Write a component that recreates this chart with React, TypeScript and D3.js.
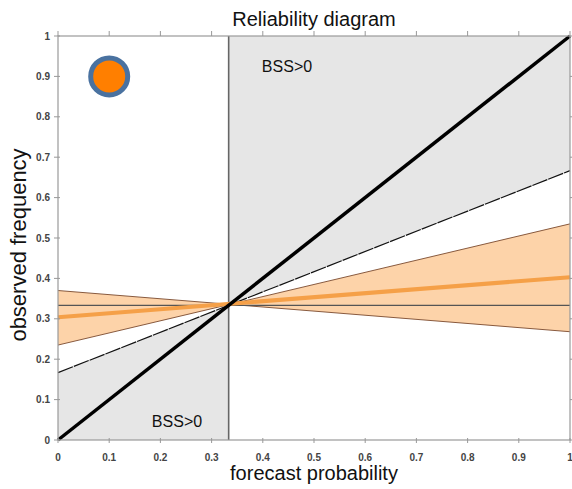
import React from "react";
import * as d3 from "d3";

const W = 572;
const H = 489;

// data
const climatology = 1 / 3;
const bandX = [0, 1];
const bandEdgeA = [0.235, 0.535];
const bandEdgeB = [0.37, 0.268];
const fitLine = [0.304, 0.403];
const perfectX = [0, 1];
const perfectY = [0, 1];
const tickValues = [0, 0.1, 0.2, 0.3, 0.4, 0.5, 0.6, 0.7, 0.8, 0.9, 1];
const tickLabels = ["0", "0.1", "0.2", "0.3", "0.4", "0.5", "0.6", "0.7", "0.8", "0.9", "1"];
const marker = { x: 0.1, y: 0.9 };

export default function App() {
  const m = { left: 58, right: 570, top: 36, bottom: 440 };
  const x = d3.scaleLinear().domain([0, 1]).range([m.left, m.right]);
  const y = d3.scaleLinear().domain([0, 1]).range([m.bottom, m.top]);

  const noSkill = (p: number) => (p + climatology) / 2;

  const line = d3
    .line<[number, number]>()
    .x((d) => x(d[0]))
    .y((d) => y(d[1]));

  // shaded BSS>0 regions
  const leftRegion: [number, number][] = [
    [0, 0],
    [0, noSkill(0)],
    [climatology, noSkill(climatology)],
    [climatology, 0],
  ];
  const rightRegion: [number, number][] = [
    [climatology, noSkill(climatology)],
    [1, noSkill(1)],
    [1, 1],
    [climatology, 1],
  ];

  const bandData = bandX.map((bx, i) => ({ x: bx, a: bandEdgeA[i], b: bandEdgeB[i] }));
  const band = d3
    .area<{ x: number; a: number; b: number }>()
    .x((d) => x(d.x))
    .y0((d) => y(d.a))
    .y1((d) => y(d.b));

  const font = "Liberation Sans, Arial, sans-serif";

  return (
    <svg width={W} height={H} style={{ position: "absolute", left: 0, top: 0 }} fontFamily={font}>
      <rect x={0} y={0} width={W} height={H} fill="#fff" />
      <path d={line(leftRegion) + "Z"} fill="#e6e6e6" />
      <path d={line(rightRegion) + "Z"} fill="#e6e6e6" />

      {/* band */}
      <path d={band(bandData) || ""} fill="#fdd3a9" />
      <path d={line(bandX.map((bx, i) => [bx, bandEdgeA[i]]) as [number, number][]) || ""} fill="none" stroke="#7a4a2e" strokeWidth={0.9} />
      <path d={line(bandX.map((bx, i) => [bx, bandEdgeB[i]]) as [number, number][]) || ""} fill="none" stroke="#7a4a2e" strokeWidth={0.9} />

      {/* no-skill line */}
      <path d={line([[0, noSkill(0)], [1, noSkill(1)]]) || ""} fill="none" stroke="#111" strokeWidth={1.2} strokeDasharray="16 1" />

      {/* climatology lines */}
      <line x1={x(0)} x2={x(1)} y1={y(climatology)} y2={y(climatology)} stroke="#555" strokeWidth={1.4} />
      <line x1={x(climatology)} x2={x(climatology)} y1={y(0)} y2={y(1)} stroke="#666" strokeWidth={1.6} />

      {/* fit line */}
      <path d={line(bandX.map((bx, i) => [bx, fitLine[i]]) as [number, number][]) || ""} fill="none" stroke="#f5a048" strokeWidth={4} />

      {/* perfect reliability */}
      <path d={line(perfectX.map((px, i) => [px, perfectY[i]]) as [number, number][]) || ""} fill="none" stroke="#000" strokeWidth={3.5} />

      {/* frame */}
      <rect x={m.left} y={m.top} width={m.right - m.left} height={m.bottom - m.top} fill="none" stroke="#9a9a9a" strokeWidth={1.2} />

      {/* ticks */}
      {tickValues.map((t, i) => (
        <g key={"t" + i}>
          <line x1={x(t)} x2={x(t)} y1={m.bottom - 2} y2={m.bottom + 3} stroke="#999" />
          <line x1={x(t)} x2={x(t)} y1={m.top} y2={m.top - 5} stroke="#999" />
          <line x1={m.left - 4} x2={m.left + 2} y1={y(t)} y2={y(t)} stroke="#999" />
          <line x1={m.right} x2={m.right + 5} y1={y(t)} y2={y(t)} stroke="#999" />
          <text x={x(t)} y={461} fontSize={10} fontWeight="bold" fill="#444" textAnchor="middle">
            {tickLabels[i]}
          </text>
          <text x={50} y={y(t) + 3.5} fontSize={10} fontWeight="bold" fill="#444" textAnchor="end">
            {tickLabels[i]}
          </text>
        </g>
      ))}

      {/* marker */}
      <circle cx={x(marker.x)} cy={y(marker.y)} r={18.5} fill="#ff7f00" stroke="#4a72a0" strokeWidth={5} />

      {/* texts */}
      <text x={287} y={72} fontSize={16} textAnchor="middle" fill="#111">BSS&gt;0</text>
      <text x={177} y={427} fontSize={16} textAnchor="middle" fill="#111">BSS&gt;0</text>
      <text x={314} y={26} fontSize={20} textAnchor="middle" fill="#111">Reliability diagram</text>
      <text x={314} y={480} fontSize={20} textAnchor="middle" fill="#111">forecast probability</text>
      <text transform="translate(26,245) rotate(-90)" fontSize={22} textAnchor="middle" fill="#111">observed frequency</text>
    </svg>
  );
}
